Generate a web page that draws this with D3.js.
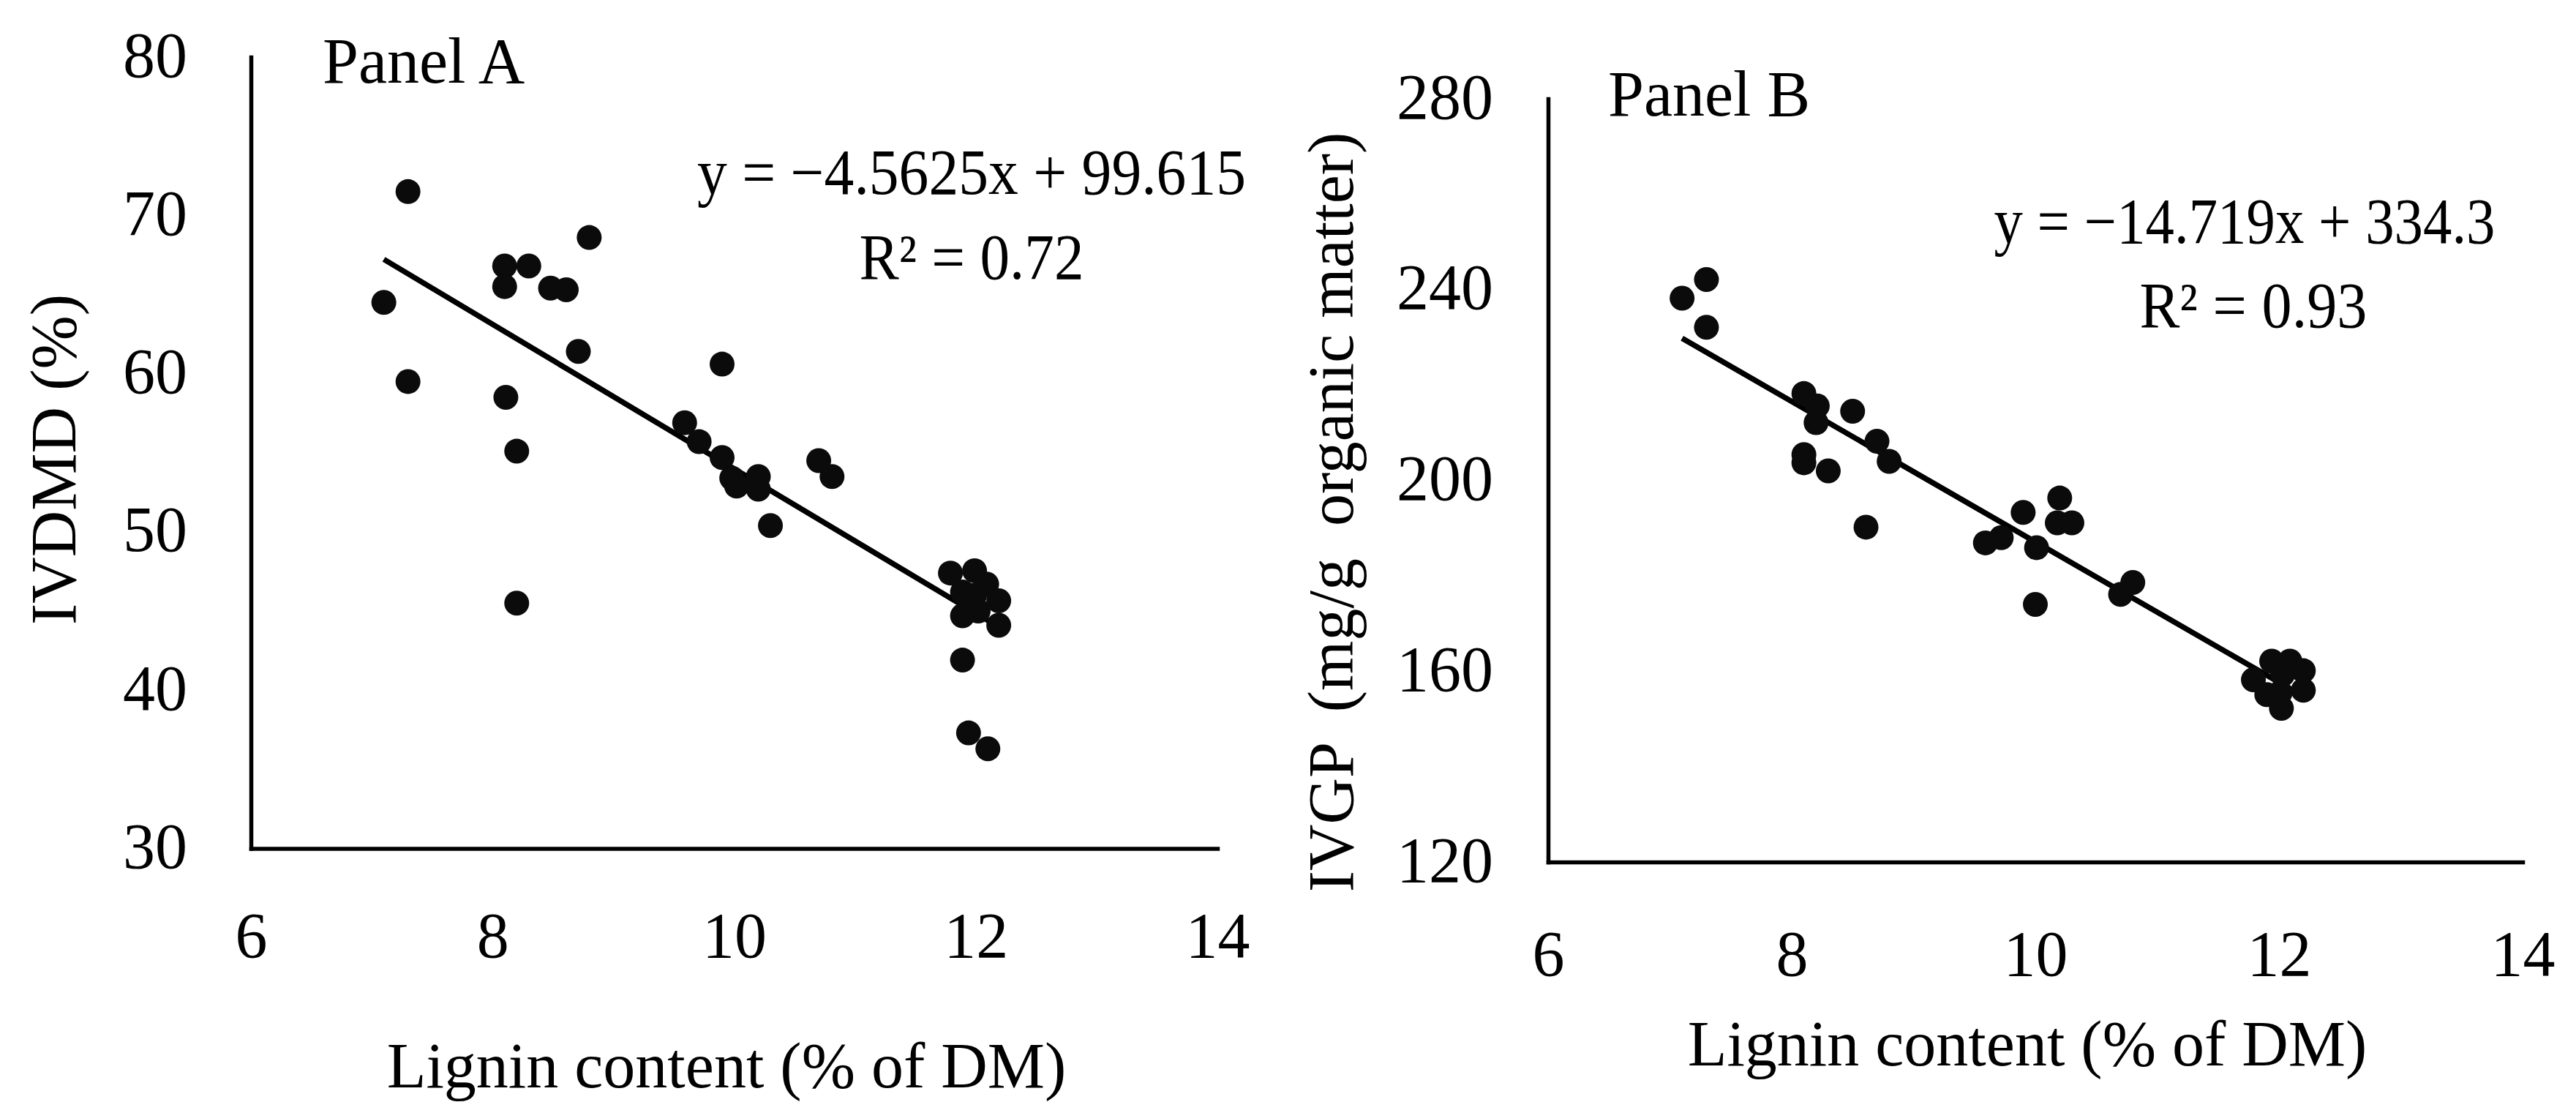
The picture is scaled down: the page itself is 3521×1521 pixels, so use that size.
<!DOCTYPE html>
<html>
<head>
<meta charset="utf-8">
<script src="https://cdn.jsdelivr.net/npm/d3@7"></script>
<style>
  html, body { margin: 0; padding: 0; background: #ffffff; }
  svg { display: block; }
  text { font-family: "Liberation Serif", "Times New Roman", serif; fill: #000; }
</style>
</head>
<body>
<script>
// ---------------- data ----------------
const xTicks = [6, 8, 10, 12, 14];
const yTicksA = [30, 40, 50, 60, 70, 80];
const yTicksB = [120, 160, 200, 240, 280];

const ligninA = [7.10, 7.30, 7.30, 8.10, 8.10, 8.30, 8.11, 8.20, 8.20, 8.48, 8.61, 8.80,
  8.71, 9.90, 9.59, 9.71, 9.90, 9.98, 10.02, 10.20, 10.20, 10.30, 10.70, 10.81,
  11.79, 11.99, 12.09, 11.89, 11.99, 12.19, 11.89, 12.02, 12.19, 11.89, 11.94, 12.10];
const ivdmd = [64.5, 71.5, 59.5, 66.8, 65.5, 66.8, 58.5, 55.1, 45.5, 65.4, 65.3, 68.6,
  61.4, 60.6, 56.9, 55.7, 54.7, 53.4, 52.9, 53.5, 52.7, 50.4, 54.5, 53.5,
  47.4, 47.55, 46.7, 46.2, 46.0, 45.65, 44.7, 45.0, 44.1, 41.9, 37.3, 36.3];

const ligninB = [7.10, 7.30, 7.30, 8.10, 8.21, 8.20, 8.50, 8.10, 8.10, 8.30, 8.70, 8.80,
  8.61, 9.90, 9.59, 9.72, 10.01, 10.00, 10.20, 10.18, 10.30, 10.70, 10.80,
  11.94, 12.09, 12.20, 11.79, 12.20, 11.90, 12.02, 12.01, 12.03];
const ivgp = [238.2, 242.1, 232.1, 218.2, 215.6, 212.1, 214.5, 205.4, 203.7, 202.0, 208.2, 204.0,
  190.2, 193.3, 186.9, 188.0, 185.9, 174.0, 196.3, 191.1, 191.1, 176.1, 178.6,
  162.1, 162.1, 160.1, 158.2, 156.0, 155.1, 152.2, 155.5, 159.3];

const trendA = [-4.5625, 99.615];   // slope, intercept
const trendB = [-14.719, 334.3];

const labelsA = ["Panel A", "IVDMD (%)", "Lignin content (% of DM)", "y = \u22124.5625x + 99.615", "R\u00B2 = 0.72"];
const labelsB = ["Panel B", "IVGP  (mg/g  organic matter)", "Lignin content (% of DM)", "y = \u221214.719x + 334.3", "R\u00B2 = 0.93"];

// ---------------- drawing ----------------
const W = 3521, H = 1521, FS = 88;
const svg = d3.select("body").append("svg")
  .attr("width", W).attr("height", H)
  .attr("viewBox", `0 0 ${W} ${H}`);
svg.append("rect").attr("width", W).attr("height", H).attr("fill", "#fff");

const panels = [
  { xs: ligninA, ys: ivdmd, yTicks: yTicksA, yDomain: [30, 80], trend: trendA, labels: labelsA,
    left: 343, right: 1664, top: 78, bottom: 1159.5,
    yTickRight: 256, xTickBase: 148.5, panelLabel: [441, 113],
    yLabel: [103, 628], xLabel: [993, 1486],
    eq: [1328, 265, 750], r2: [1328, 381, 307] },
  { xs: ligninB, ys: ivgp, yTicks: yTicksB, yDomain: [120, 280], trend: trendB, labels: labelsB,
    left: 2116, right: 3448, top: 135, bottom: 1178,
    yTickRight: 2041, xTickBase: 155, panelLabel: [2198, 158],
    yLabel: [1849, 700], xLabel: [2771, 1456],
    eq: [3068, 332, 685], r2: [3080, 447, 311] }
];

panels.forEach(p => {
  const x = d3.scaleLinear().domain([6, 14]).range([p.left, p.right]);
  const y = d3.scaleLinear().domain(p.yDomain).range([p.bottom, p.top]);
  const g = svg.append("g");

  // x axis
  const xa = g.append("g").attr("transform", `translate(0,${p.bottom})`)
    .call(d3.axisBottom(x).tickValues(xTicks).tickSize(0).tickSizeOuter(0).tickFormat(d3.format("d")));
  xa.select(".domain").attr("stroke", "#000").attr("stroke-width", 5.5).attr("stroke-linecap", "square");
  xa.selectAll(".tick text")
    .attr("font-family", "Liberation Serif, serif").attr("font-size", FS).attr("fill", "#000")
    .attr("dy", null).attr("y", p.xTickBase);

  // y axis
  const ya = g.append("g").attr("transform", `translate(${p.left},0)`)
    .call(d3.axisLeft(y).tickValues(p.yTicks).tickSize(0).tickSizeOuter(0).tickFormat(d3.format("d")));
  ya.select(".domain").attr("stroke", "#000").attr("stroke-width", 5.5).attr("stroke-linecap", "square");
  ya.selectAll(".tick text")
    .attr("font-family", "Liberation Serif, serif").attr("font-size", FS).attr("fill", "#000")
    .attr("x", p.yTickRight - p.left).attr("dy", null).attr("y", 26)
    .attr("text-anchor", "end");

  // trendline
  const [x0, x1] = d3.extent(p.xs);
  const line = d3.line().x(d => x(d)).y(d => y(p.trend[0] * d + p.trend[1]));
  g.append("path").datum([x0, x1]).attr("d", line)
    .attr("fill", "none").attr("stroke", "#000").attr("stroke-width", 7.5);

  // points
  g.selectAll("circle.pt").data(p.xs.map((v, i) => [v, p.ys[i]])).join("circle")
    .attr("class", "pt")
    .attr("cx", d => x(d[0])).attr("cy", d => y(d[1])).attr("r", 17)
    .attr("fill", "#0b0b0b");

  // texts
  g.append("text").attr("x", p.panelLabel[0]).attr("y", p.panelLabel[1])
    .attr("font-size", FS).text(p.labels[0]);
  g.append("text")
    .attr("transform", `translate(${p.yLabel[0]},${p.yLabel[1]}) rotate(-90)`)
    .attr("text-anchor", "middle").attr("font-size", FS)
    .style("white-space", "pre").text(p.labels[1]);
  g.append("text").attr("x", p.xLabel[0]).attr("y", p.xLabel[1])
    .attr("text-anchor", "middle").attr("font-size", FS).text(p.labels[2]);
  g.append("text").attr("x", p.eq[0]).attr("y", p.eq[1])
    .attr("text-anchor", "middle").attr("font-size", FS)
    .attr("textLength", p.eq[2]).attr("lengthAdjust", "spacingAndGlyphs").text(p.labels[3]);
  g.append("text").attr("x", p.r2[0]).attr("y", p.r2[1])
    .attr("text-anchor", "middle").attr("font-size", FS)
    .attr("textLength", p.r2[2]).attr("lengthAdjust", "spacingAndGlyphs").text(p.labels[4]);
});
</script>
</body>
</html>
